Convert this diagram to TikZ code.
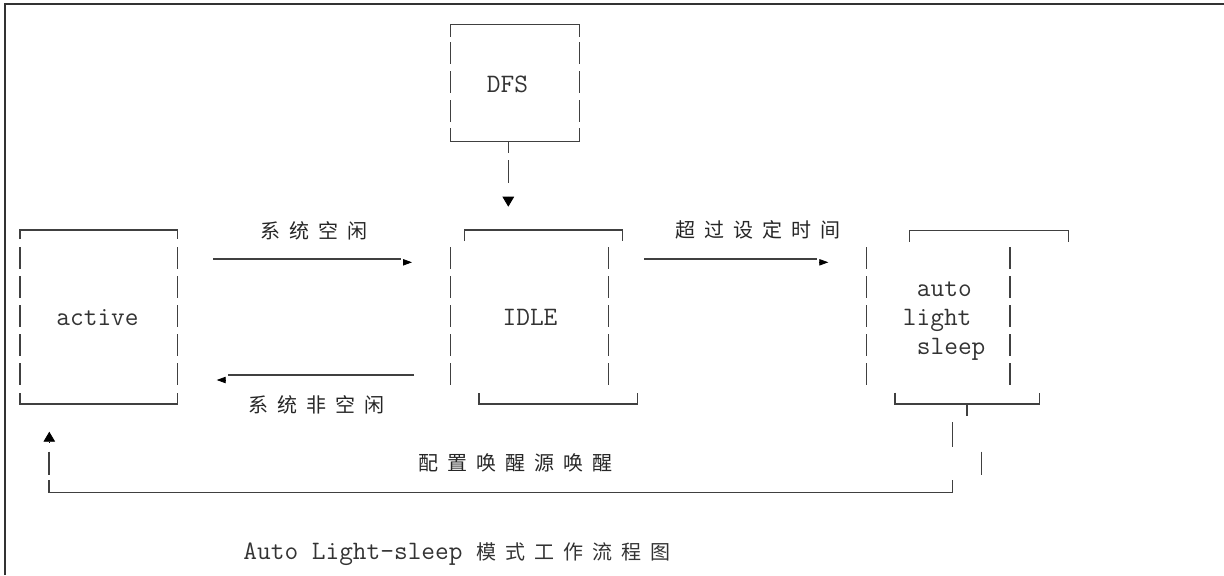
\documentclass[tikz,border=0pt]{standalone}
\usepackage{fontspec}
\newfontfamily\cjk[LetterSpace=45]{Noto Sans CJK SC}
\usetikzlibrary{arrows.meta}

\begin{document}
\begin{tikzpicture}[
        x=0.5pt, y=-0.5pt,
        seg/.style={draw=black!75, line width=0.6pt},
        vbar/.style={seg, dash pattern=on 11pt off 3.5pt},
        mono/.style={inner sep=0pt, anchor=base, text=black!80, font=\fontsize{13.3}{16}\selectfont\ttfamily},
        cjktext/.style={inner sep=0pt, anchor=base west, text=black!85, font=\fontsize{10}{12}\selectfont\cjk},
        arrowtip/.style={draw=black, -{Triangle[length=4.5pt,width=3.2pt]}},
        bigtip/.style={draw=black, -{Triangle[length=5pt,width=5.8pt]}}
    ]
        \useasboundingbox (0,0) rectangle (1224,575);
        % Rahmen
        \draw[draw=black!80, line width=1pt] (4.5,575) -- (4.5,3.5) -- (1224,3.5);

        % Zustaende
        \node[mono] (dfs) at (507.5,92.5) {DFS};
        \node[mono] (active) at (97.5,325.5) {active};
        \node[mono] (idle) at (530,325.5) {IDLE};
        \node[mono, anchor=base west] (auto) at (916.5,296) {auto};
        \node[mono, anchor=base west] (light) at (902.5,325) {light};
        \node[mono, anchor=base west] (sleep) at (916.5,354) {sleep};

        % Kasten DFS
        \draw[seg] (450.7,36.7) -- (450.7,24.7) -- (579.3,24.7) -- (579.3,36.7);
        \draw[vbar] (450.7,42) -- (450.7,122);
        \draw[vbar] (579.3,42) -- (579.3,122);
        \draw[seg] (450.7,128.3) -- (450.7,141.7) -- (579.3,141.7) -- (579.3,128.3);

        % Kasten active
        \draw[seg] (20,239) -- (20,230) -- (177.7,230) -- (177.7,239);
        \draw[vbar] (20,247) -- (20,385);
        \draw[vbar] (177.7,247) -- (177.7,385);
        \draw[seg] (20,393.3) -- (20,404) -- (177.7,404) -- (177.7,393.3);

        % Kasten IDLE
        \draw[seg] (464.3,241) -- (464.3,230) -- (622.7,230) -- (622.7,241);
        \draw[vbar] (450.7,247) -- (450.7,385);
        \draw[vbar] (608.3,247) -- (608.3,385);
        \draw[seg] (479,393.3) -- (479,404) -- (637.3,404) -- (637.3,393.3);

        % Kasten auto light sleep
        \draw[seg] (909.3,241.7) -- (909.3,230.7) -- (1068.3,230.7) -- (1068.3,241.7);
        \draw[vbar] (866.7,247) -- (866.7,385);
        \draw[vbar] (1010,247) -- (1010,385);
        \draw[seg] (895,392.7) -- (895,404) -- (1039.3,404) -- (1039.3,392.7);

        % DFS -> IDLE
        \coordinate (dfs out) at (508.3,141.7);
        \coordinate (dfs mid) at (508.3,160);
        \coordinate (idle top) at (508.3,206.7);
        \draw[seg] (dfs out) -- ++(0,11.5);
        \draw[seg] (dfs mid) -- ++(0,23);
        \draw[bigtip] ([yshift=5pt]idle top) -- (idle top);

        % active -> IDLE
        \coordinate (go1) at (213.3,259);
        \coordinate (go2) at (400.7,259);
        \draw[seg] (go1) -- (go2);
        \draw[arrowtip] ([shift={(2.3,3.3)}]go2) -- ++(9,0);
        \node[cjktext] (lbl go) at (260.5,238.3) {系统空闲};

        % IDLE -> active
        \coordinate (back1) at (414,375);
        \coordinate (back2) at (228.3,375);
        \draw[seg] (back1) -- (back2);
        \draw[arrowtip] ([shift={(-3.3,5)}]back2) -- ++(-8.3,0);
        \node[cjktext] (lbl back) at (248,412.6) {系统非空闲};

        % IDLE -> auto light sleep
        \coordinate (tm1) at (644,259);
        \coordinate (tm2) at (816.7,259);
        \draw[seg] (tm1) -- (tm2);
        \draw[arrowtip] ([shift={(2.6,3.3)}]tm2) -- ++(9,0);
        \node[cjktext] (lbl tm) at (675.5,237.6) {超过设定时间};

        % Wecken -> active
        \coordinate (als out) at (967,404);
        \coordinate (wk corner) at (952.7,492.7);
        \coordinate (act corner) at (49,492.7);
        \coordinate (act in) at (49.3,431.7);
        \draw[seg] (als out) -- ++(0,12);
        \draw[seg] (952.7,422.3) -- (952.7,446.7);
        \draw[seg] (981.7,451.7) -- (981.7,475);
        \draw[seg] ([yshift=6.3pt]wk corner) -- (wk corner) -- (act corner) -- ([yshift=6.3pt]act corner);
        \draw[seg] (49,451.7) -- (49,475);
        \draw[bigtip] ([yshift=-5pt]act in) -- (act in);
        \node[cjktext] (lbl wk) at (418,470.6) {配置唤醒源唤醒};

        % Bildunterschrift
        \node[mono, anchor=base west] (caption) at (243,559) {Auto Light-sleep {\fontsize{10}{12}\selectfont\cjk 模式工作流程图}};
    \end{tikzpicture}
\end{document}
